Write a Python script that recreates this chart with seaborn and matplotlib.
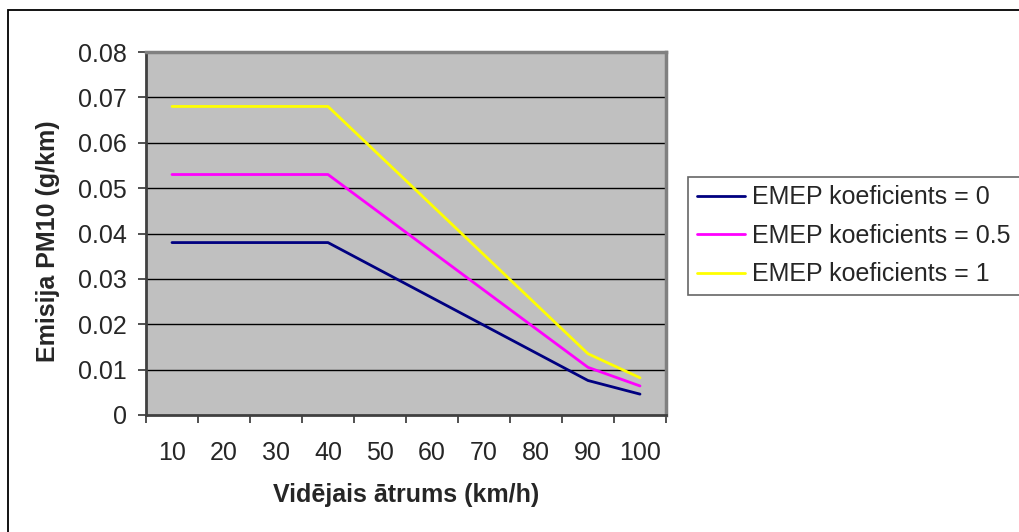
import matplotlib
matplotlib.use("Agg")
import matplotlib.pyplot as plt
from matplotlib.patches import Rectangle
import seaborn as sns
import pandas as pd

# Speed categories on the x axis
speed_categories = [10, 20, 30, 40, 50, 60, 70, 80, 90, 100]
# Speeds at which emission factors are given
speed_points = [10, 40, 90, 100]

# PM10 emission (g/km) for each EMEP coefficient
emep_0 = [0.038, 0.038, 0.0076, 0.0046]
emep_05 = [0.053, 0.053, 0.0105, 0.0064]
emep_1 = [0.068, 0.068, 0.0135, 0.0082]

series_names = ["EMEP koeficients = 0", "EMEP koeficients = 0.5", "EMEP koeficients = 1"]
series_colors = ["#000080", "#FF00FF", "#FFFF00"]
y_ticks = [0, 0.01, 0.02, 0.03, 0.04, 0.05, 0.06, 0.07, 0.08]
y_tick_labels = ["0", "0.01", "0.02", "0.03", "0.04", "0.05", "0.06", "0.07", "0.08"]

rows = []
for name, vals in zip(series_names, [emep_0, emep_05, emep_1]):
    for s, v in zip(speed_points, vals):
        rows.append({"pos": speed_categories.index(s), "value": v, "series": name})
df = pd.DataFrame(rows)

sns.set_style("white")
plt.rcParams["font.family"] = ["Liberation Sans", "DejaVu Sans"]
FS = 18

fig = plt.figure(figsize=(10.19, 5.32), dpi=100)
ax = fig.add_axes([146 / 1019, 1 - 415 / 532, 520 / 1019, 363 / 532])
ax.set_facecolor("#C0C0C0")

# Outer chart frame
fig.patches.append(Rectangle((8 / 1019, -0.1), 1.2, 1 - 10 / 532 + 0.1,
                             transform=fig.transFigure, fill=False,
                             edgecolor="black", linewidth=1.3, zorder=0))

# Horizontal gridlines
for t in y_ticks[1:-1]:
    ax.axhline(t, color="black", linewidth=1.0, zorder=1)

sns.lineplot(data=df, x="pos", y="value", hue="series", palette=series_colors,
             hue_order=series_names, estimator=None, sort=False,
             linewidth=2.0, ax=ax, zorder=3, legend=True)

ax.set_xlim(-0.5, len(speed_categories) - 0.5)
ax.set_ylim(0, 0.08)

# Category axis: ticks on boundaries, labels at centers
ax.set_xticks([i - 0.5 for i in range(len(speed_categories) + 1)])
ax.set_xticklabels([])
ax.set_xticks(range(len(speed_categories)), minor=True)
ax.set_xticklabels([str(c) for c in speed_categories], minor=True)
ax.tick_params(axis="x", which="major", direction="out", length=6, width=1.2,
               color="#333333", bottom=True)
ax.tick_params(axis="x", which="minor", length=0, pad=19, labelsize=FS)

ax.set_yticks(y_ticks)
ax.set_yticklabels(y_tick_labels)
ax.tick_params(axis="y", direction="out", length=6, width=1.2, color="#333333",
               left=True, pad=8, labelsize=FS)

for side in ["left", "bottom"]:
    ax.spines[side].set_color("#404040")
    ax.spines[side].set_linewidth(2.0)
for side in ["top", "right"]:
    ax.spines[side].set_color("#808080")
    ax.spines[side].set_linewidth(2.5)

ax.set_xlabel("")
ax.set_ylabel("")
fig.text(406 / 1019, 1 - 495 / 532, "Vidējais ātrums (km/h)", ha="center",
         va="center", fontsize=FS, fontweight="bold")
fig.text(48 / 1019, 1 - 241 / 532, "Emisija PM10 (g/km)", ha="center",
         va="center", rotation=90, fontsize=FS, fontweight="bold")

handles, labels = ax.get_legend_handles_labels()
ax.get_legend().remove()
leg = fig.legend(handles, labels, loc="upper left",
                 bbox_to_anchor=(688 / 1019, 1 - 177 / 532, 0.4, 0.0),
                 mode="expand", fontsize=FS, frameon=True, fancybox=False,
                 borderpad=0.34, borderaxespad=0, handlelength=1.95,
                 handletextpad=0.25, labelspacing=0.58)
leg.get_frame().set_edgecolor("#404040")
leg.get_frame().set_linewidth(1.2)
for line in leg.get_lines():
    line.set_linewidth(2.0)

fig.savefig("out.png", dpi=100)
